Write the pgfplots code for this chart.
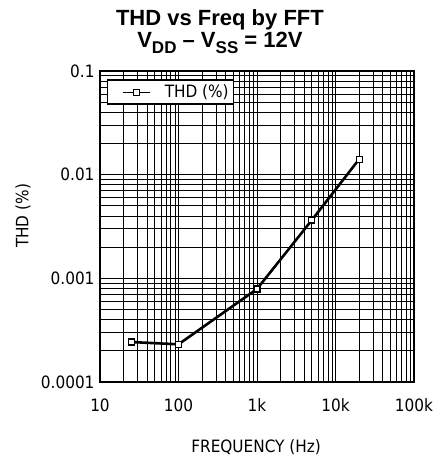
\documentclass[border=0pt]{standalone}
\usepackage{fontspec}
\setmainfont{Liberation Sans}
\newfontfamily\plotfont{DejaVu Sans Condensed}
\usepackage{pgfplots}
\pgfplotsset{compat=1.18}
\begin{document}
\begin{tikzpicture}
\path[use as bounding box] (-100bp,-77bp) rectangle (341bp,382bp);
\begin{axis}[
  at={(0,0)}, anchor=south west,
  scale only axis, width=314bp, height=311bp,
  xmode=log, ymode=log,
  xmin=10, xmax=100000, ymin=0.0001, ymax=0.1,
  xtick={10,100,1000,10000,100000},
  xticklabels={10,100,1k,10k,100k},
  ytick={0.0001,0.001,0.01,0.1},
  yticklabels={0.0001,0.001,0.01,0.1},
  minor x tick num=8, minor y tick num=8,
  grid=both,
  major grid style={black, line width=0.8bp},
  minor grid style={black, line width=0.8bp},
  major tick length=0pt, minor tick length=0pt,
  axis line style={black, line width=1.2bp},
  tick label style={font=\plotfont\fontsize{17bp}{20bp}\selectfont},
  xticklabel style={yshift=-13bp},
  yticklabel style={xshift=-2bp},
  xlabel={FREQUENCY (Hz)},
  ylabel={THD (\%)},
  xlabel style={font=\plotfont\fontsize{17bp}{20bp}\selectfont, at={(axis description cs:0.497,-0.209)}, anchor=center},
  ylabel style={font=\plotfont\fontsize{17bp}{20bp}\selectfont, at={(axis description cs:-0.245,0.534)}, anchor=center, rotate=0},
  title={THD vs Freq by FFT\\V\raisebox{-0.28em}{\fontsize{17bp}{17bp}\selectfont DD} -- V\raisebox{-0.28em}{\fontsize{17bp}{17bp}\selectfont SS} = 12V},
  title style={font=\bfseries\fontsize{22bp}{22bp}\selectfont, align=center, at={(axis description cs:0.382,1.0)}, anchor=south, yshift=8bp},
  legend style={at={(axis description cs:0.0223,0.974)}, anchor=north west, draw=black, line width=1.5bp, fill=white,
    font=\plotfont\fontsize{17bp}{20bp}\selectfont, inner xsep=4bp, inner ysep=4bp, nodes={inner xsep=1bp, inner ysep=1bp}},
  legend cell align=left,
  legend image code/.code={\path[draw=none, fill=none] (0bp,0bp) -- (52bp,0bp);
    \draw[black, line width=0.9bp, mark=square*, mark size=3bp, mark options={fill=white, line width=1bp}, mark repeat=2, mark phase=2] plot coordinates {(11bp,0bp) (24.5bp,0bp) (38bp,0bp)};},
]
\addplot[black, line width=2.6bp, mark=square*, mark size=3bp, mark options={fill=white, line width=1.2bp}]
  coordinates {(25,0.000243) (100,0.000231) (1000,0.00079) (5000,0.00365) (20000,0.0141)};
\addlegendentry{THD (\%)}
\end{axis}
\end{tikzpicture}
\end{document}
